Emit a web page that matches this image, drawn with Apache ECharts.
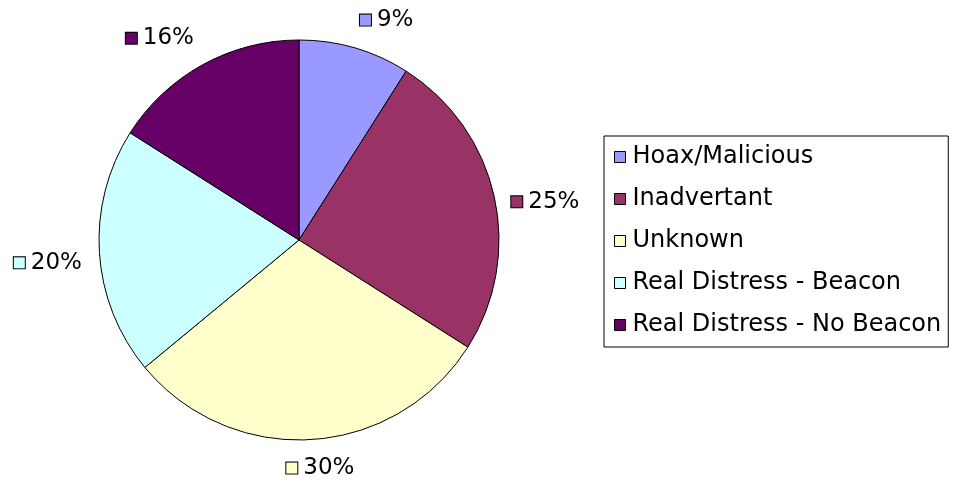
<!DOCTYPE html>
<html><head><meta charset="utf-8">
<script src="https://cdn.jsdelivr.net/npm/echarts@6/dist/echarts.min.js"></script>
<style>html,body{margin:0;padding:0;background:#fff}#c{width:954px;height:482px}</style>
</head><body><div id="c"></div>
<script>
const categories = ['Hoax/Malicious','Inadvertant','Unknown','Real Distress - Beacon','Real Distress - No Beacon'];
const values = [9, 25, 30, 20, 16];
const colors = ['#9999FF','#993366','#FFFFCC','#CCFFFF','#660066'];

const CX = 299, CY = 240, R = 200, GAP = 17;
const total = values.reduce((a, b) => a + b, 0);
const midAngles = [];
values.reduce((acc, v) => { midAngles.push((acc + v / 2) / total * 2 * Math.PI); return acc + v; }, 0);

const rich = { t: { fontFamily: 'DejaVu Sans', fontSize: 23, lineHeight: 18, color: '#000', padding: [0,0,0,6] } };
colors.forEach((c, i) => {
  rich['sq' + i] = { width: 11, height: 11, backgroundColor: c, borderColor: '#000', borderWidth: 1 };
});

const clamp = v => Math.max(-1, Math.min(1, v));

const chart = echarts.init(document.getElementById('c'));
chart.setOption({
  animation: false,
  backgroundColor: '#fff',
  color: colors,
  legend: {
    orient: 'vertical',
    left: 604, top: 136,
    padding: [9, 7, 10, 10],
    borderColor: '#000', borderWidth: 1,
    itemWidth: 11, itemHeight: 11, itemGap: 18,
    icon: 'rect',
    itemStyle: { borderColor: '#000', borderWidth: 1 },
    textStyle: { fontFamily: 'DejaVu Sans', fontSize: 24, color: '#000', lineHeight: 24, padding: [0,0,0,2] },
    data: categories
  },
  series: [{
    type: 'pie',
    center: [CX, CY],
    radius: R,
    startAngle: 90,
    clockwise: true,
    avoidLabelOverlap: false,
    itemStyle: { borderColor: '#000', borderWidth: 1 },
    label: {
      show: true,
      position: 'outside',
      formatter: p => '{sq' + p.dataIndex + '|}{t|' + p.value + '%}',
      rich: rich
    },
    labelLine: { show: false, length: 14, length2: 4 },
    labelLayout: function (p) {
      // anchor point just outside the rim on the slice's mid ray; label box hangs off it away from the pie
      const a = midAngles[p.dataIndex];
      const s = Math.sin(a), c = Math.cos(a);
      const w = p.labelRect.width, h = p.labelRect.height;
      const d = R + GAP;
      const fx = clamp(s / 0.28);
      const fy = Math.sign(c) * Math.max(0, Math.min(1, (Math.abs(c) - 0.3) / 0.4));
      const drop = (1 - Math.abs(fy)) * h * 0.4;
      return { x: CX + d * s + fx * w / 2, y: CY - d * c - fy * h / 2 + drop, align: 'center', verticalAlign: 'middle' };
    },
    emphasis: { disabled: true },
    data: categories.map((n, i) => ({ name: n, value: values[i] }))
  }]
});
</script></body></html>
